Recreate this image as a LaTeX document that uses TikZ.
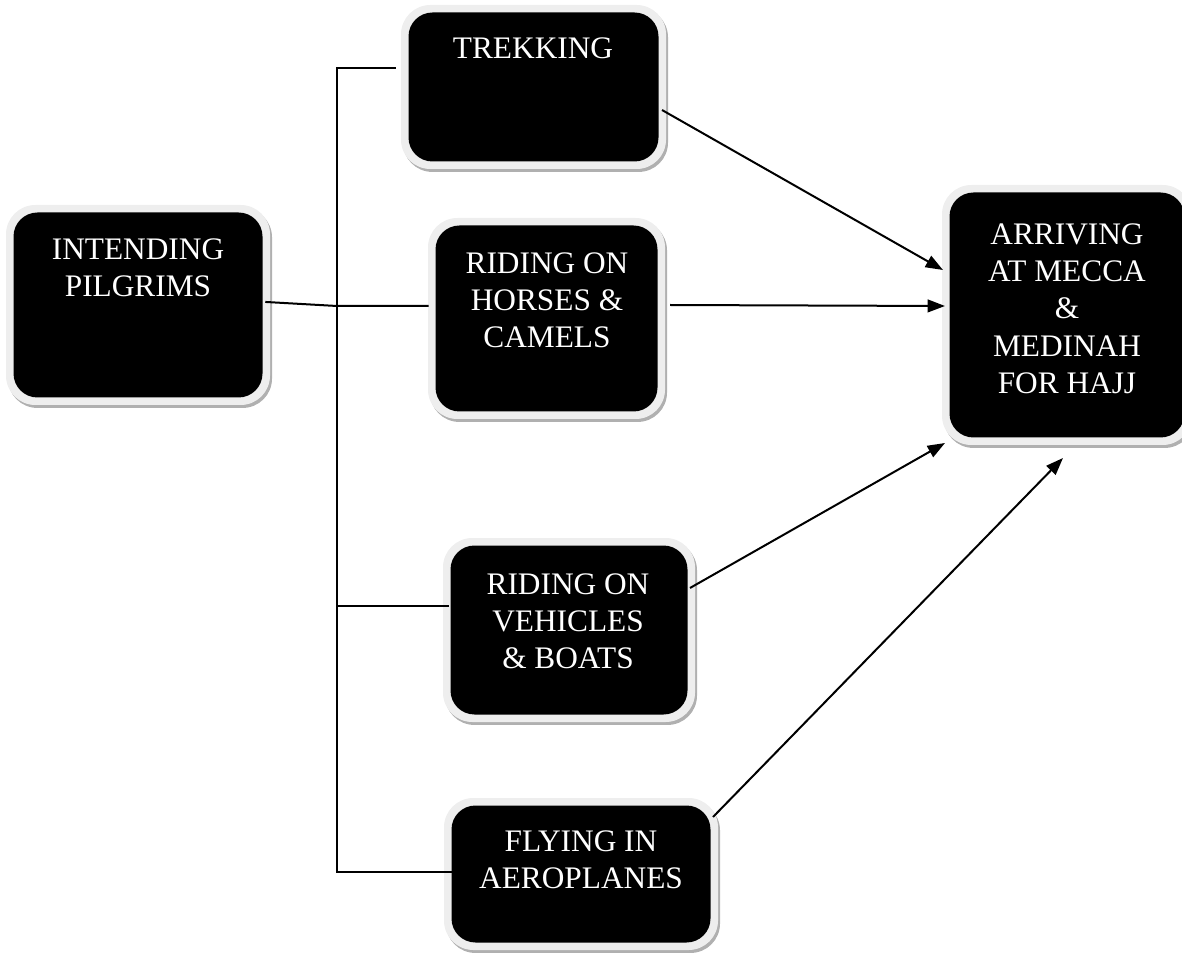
\documentclass[tikz,border=0pt]{standalone}
\usepackage{fontspec}
\setmainfont{Liberation Serif}
\usetikzlibrary{shadows,calc,arrows.meta}
\definecolor{framegray}{HTML}{EEEEEE}
\definecolor{shadowgray}{HTML}{B0B0B0}
\tikzset{
  frame/.style 2 args={draw=none, fill=framegray, rounded corners=22pt, inner sep=0pt,
    minimum width={#1*0.75pt}, minimum height={#2*0.75pt},
    drop shadow={shadow xshift=1.5pt, shadow yshift=-2.2pt, fill=shadowgray, opacity=1}},
  core/.style 2 args={draw=none, fill=black, rounded corners=18pt, inner sep=0pt,
    minimum width={(#1-15)*0.75pt}, minimum height={(#2-15)*0.75pt}},
  boxtext/.style={text=white, font=\fontsize{23.5}{28}\selectfont, align=center, anchor=north, inner sep=0pt},
  conn/.style={line width=1.5pt, line cap=rect},
  arr/.style={line width=1.5pt, -{Triangle[length=13pt,width=9.5pt]}},
}
\begin{document}
\begin{tikzpicture}[x=0.75pt,y=-0.75pt]
\useasboundingbox (0,0) rectangle (1182,955);
\clip (0,0) rectangle (1182,955);

% boxes
\node[frame={264}{200}] (pil) at (138,305) {};
\node[core={264}{200}] (pilc) at (pil.center) {};
\node[boxtext] (pilt) at (138,238) {INTENDING\\PILGRIMS};

\node[frame={265}{164}] (trek) at (533.5,87) {};
\node[core={265}{164}] (trekc) at (trek.center) {};
\node[boxtext] (trekt) at (533,37) {TREKKING};

\node[frame={237}{201}] (horse) at (546.5,318.5) {};
\node[core={237}{201}] (horsec) at (horse.center) {};
\node[boxtext] (horset) at (547,252) {RIDING ON\\HORSES \&\\CAMELS};

\node[frame={252}{184}] (veh) at (569,630) {};
\node[core={252}{184}] (vehc) at (veh.center) {};
\node[boxtext] (veht) at (568,573) {RIDING ON\\VEHICLES\\\& BOATS};

\node[frame={274}{152}] (aero) at (581,874) {};
\node[core={274}{152}] (aeroc) at (aero.center) {};
\node[boxtext] (aerot) at (581,830) {FLYING IN\\AEROPLANES};

\node[frame={250}{260}] (arr) at (1067,315) {};
\node[core={250}{260}] (arrc) at (arr.center) {};
\node[boxtext] (arrt) at (1067,223) {ARRIVING\\AT MECCA\\\&\\MEDINAH\\FOR HAJJ};

% tree connectors
\coordinate (j0) at (337,68);
\coordinate (j1) at (337,306);
\coordinate (j2) at (337,606);
\coordinate (j3) at (337,872);
\draw[conn] (j0) -- (j3);
\draw[conn] (j0) -- ($(trek.west |- j0)+(-6,0)$);
\draw[conn] ($(pil.east)+(-4,-3)$) -- (j1) -- (horse.west |- j1);
\draw[conn] (j2) -- ($(veh.west |- j2)+(5,0)$);
\draw[conn] (j3) -- (aeroc.west |- j3);

% arrows
\draw[arr] ($(trek.center)+(128.5,23)$) -- ($(arr.center)+(-124,-45)$);
\draw[arr] ($(horse.center)+(123.5,-13.5)$) -- ($(arr.center)+(-122,-9)$);
\draw[arr] ($(veh.center)+(121,-42)$) -- ($(arr.center)+(-122,128)$);
\draw[arr] ($(aero.center)+(132,-57)$) -- ($(arr.center)+(-4,143)$);
\end{tikzpicture}
\end{document}
